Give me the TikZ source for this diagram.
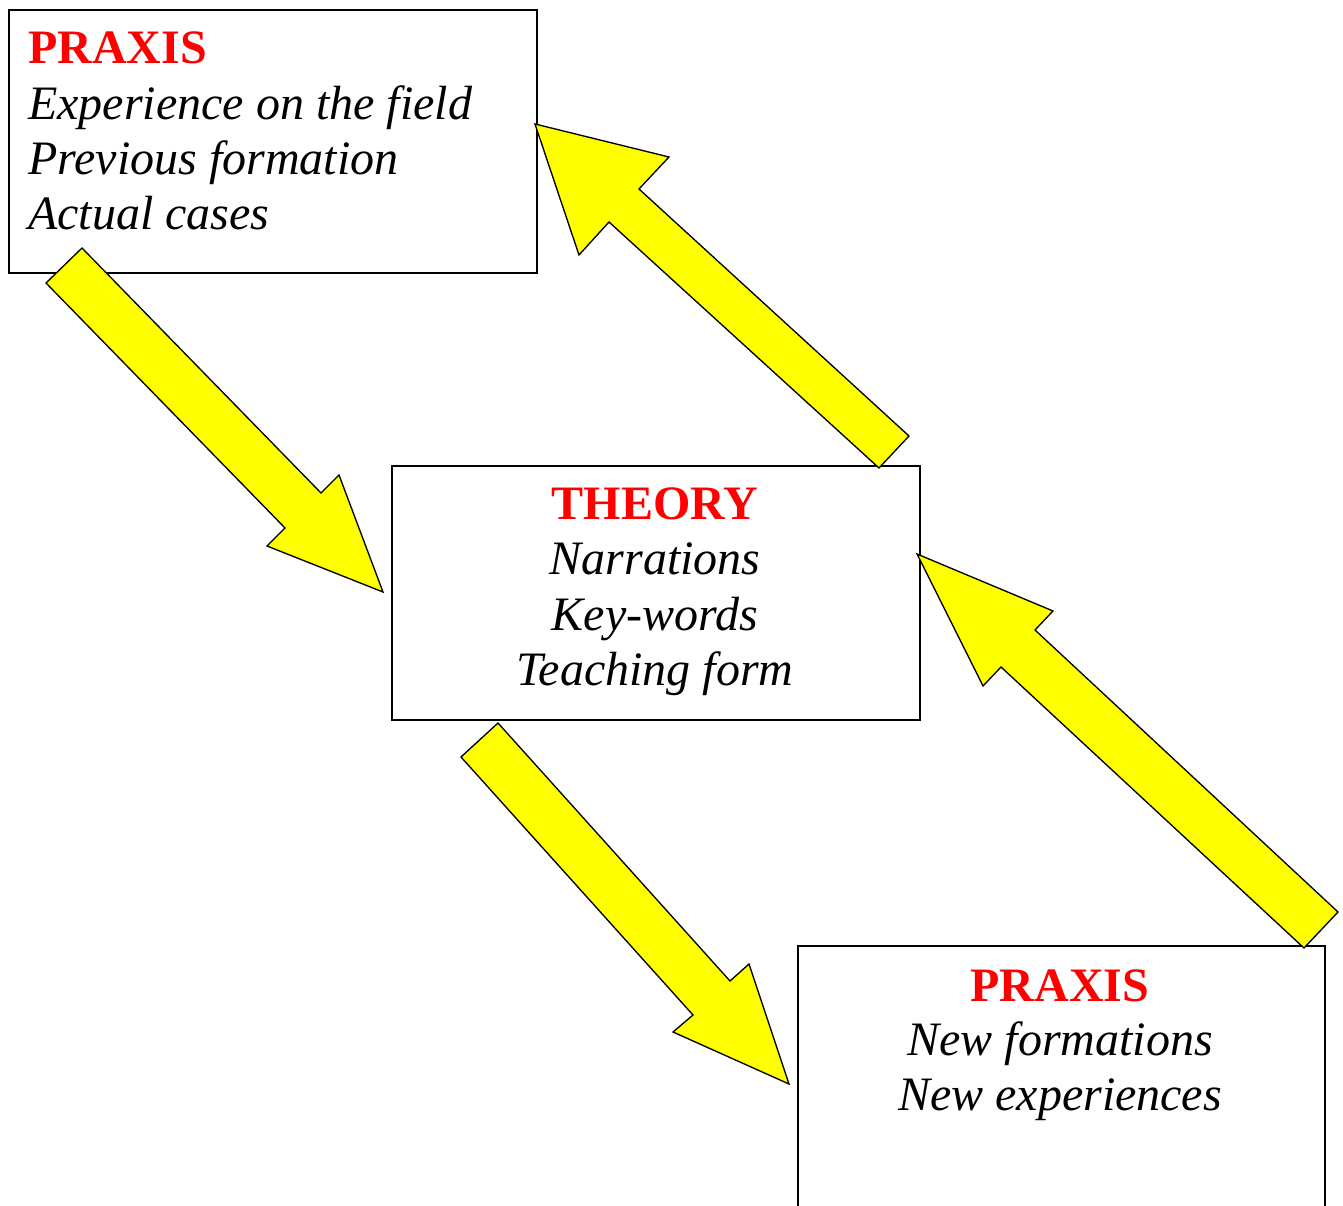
\documentclass[tikz,border=0pt]{standalone}
\usepackage{fontspec}
\setmainfont{Liberation Serif}
\definecolor{pureyellow}{RGB}{255,255,0}
\definecolor{purered}{RGB}{255,0,0}
\begin{document}
\begin{tikzpicture}[x=0.75pt,y=-0.75pt,
  box/.style={draw=black,line width=1.2pt,fill=white,rectangle,inner sep=0pt,anchor=north west},
  blockarrow/.style={draw=black,fill=pureyellow,line width=1pt,line join=miter},
  headtxt/.style={text=purered,font=\fontsize{36}{41.5}\selectfont\bfseries,inner sep=0pt},
  bodytxt/.style={text=black,font=\fontsize{36}{41.5}\selectfont\itshape,inner sep=0pt}]
\useasboundingbox (0,0) rectangle (1343,1206);
\clip (0,0) rectangle (1343,1206);
% boxes
\node[box,minimum width=396pt,minimum height=197.25pt] (praxisA) at (8,9) {};
\node[box,minimum width=396pt,minimum height=190.5pt] (theory) at (391,465) {};
\node[box,minimum width=395.25pt,minimum height=213.75pt] (praxisB) at (797,945) {};
% texts
\node[headtxt,anchor=base west] (tA0) at (28,64) {PRAXIS};
\node[bodytxt,anchor=base west] (tA1) at (28,119) {Experience on the field};
\node[bodytxt,anchor=base west] (tA2) at (28,174) {Previous formation};
\node[bodytxt,anchor=base west] (tA3) at (28,229) {Actual cases};
\node[headtxt,anchor=base] (tT0) at (655,519) {THEORY};
\node[bodytxt,anchor=base] (tT1) at (655,574) {Narrations};
\node[bodytxt,anchor=base] (tT2) at (655,630) {Key-words};
\node[bodytxt,anchor=base] (tT3) at (655,685) {Teaching form};
\node[headtxt,anchor=base] (tB0) at (1060,1001) {PRAXIS};
\node[bodytxt,anchor=base] (tB1) at (1060,1055) {New formations};
\node[bodytxt,anchor=base] (tB2) at (1060,1110) {New experiences};
% block arrows
\draw[blockarrow] (82,248) -- (321,493) -- (339,475) -- (383,592) -- (267,546) -- (285,528) -- (46,283) -- cycle;
\draw[blockarrow] (535,124) -- (669,157) -- (639,189) -- (909,436) -- (879,468) -- (609,222) -- (579,255) -- cycle;
\draw[blockarrow] (498,723) -- (730,981) -- (749,964) -- (789,1084) -- (673,1032) -- (693,1015) -- (461,757) -- cycle;
\draw[blockarrow] (917,554) -- (1053,611) -- (1035,630) -- (1338,912) -- (1304,948) -- (1001,667) -- (983,686) -- cycle;
\end{tikzpicture}
\end{document}
